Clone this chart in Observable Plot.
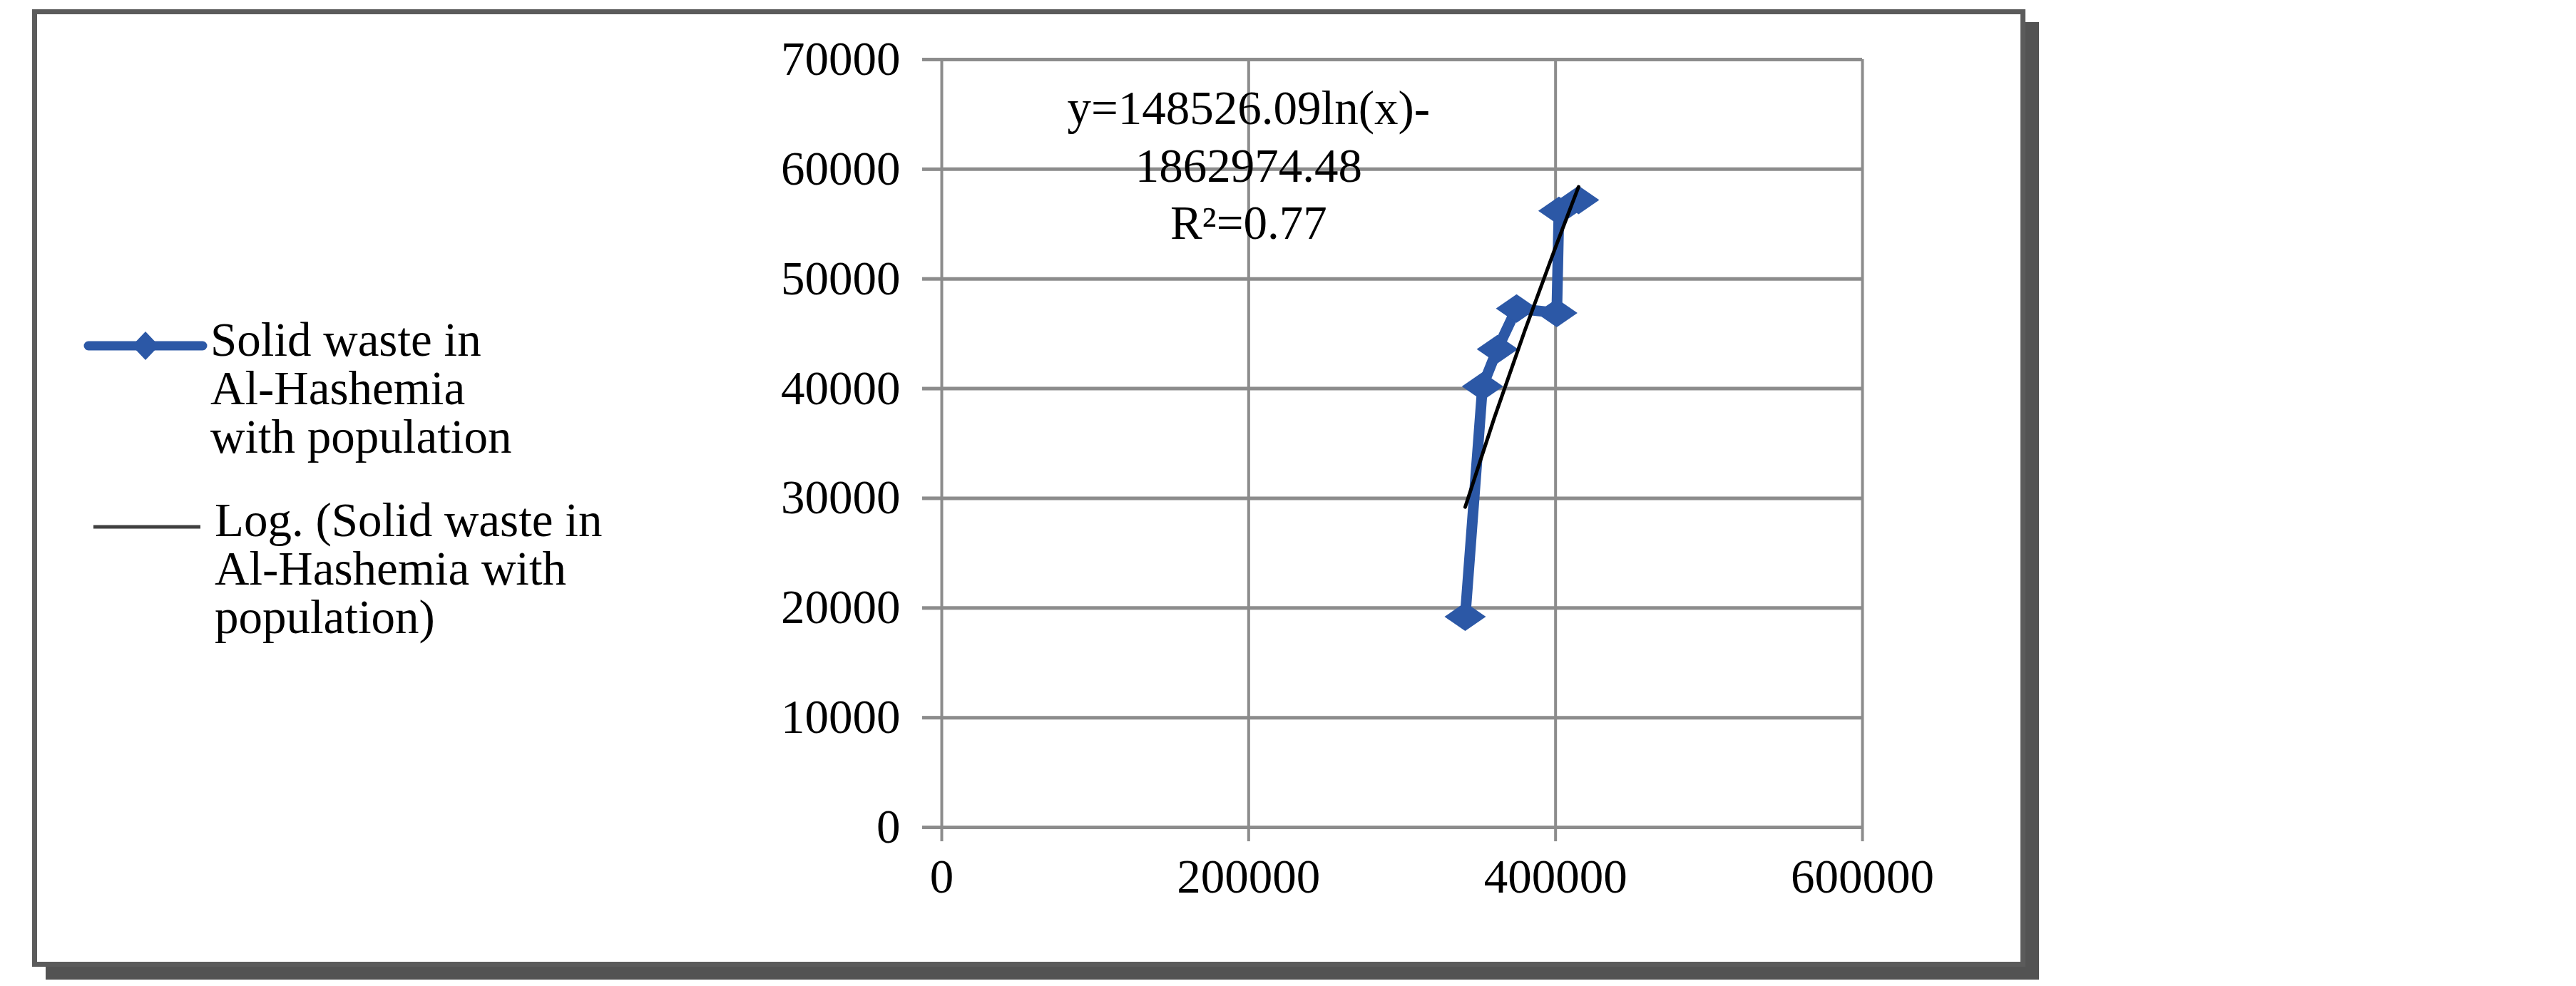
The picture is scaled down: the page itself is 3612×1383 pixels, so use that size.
<!DOCTYPE html>
<html>
<head>
<meta charset="utf-8">
<script src="https://cdn.jsdelivr.net/npm/d3@7"></script>
<script src="https://cdn.jsdelivr.net/npm/@observablehq/plot@0.6"></script>
<style>
  html, body { margin: 0; padding: 0; background: #ffffff; }
  #wrap { position: relative; width: 3612px; height: 1383px; overflow: hidden; font-family: "Liberation Serif", "Times New Roman", serif; }
  #box { position: absolute; left: 45px; top: 13px; width: 2795px; height: 1343px; box-sizing: border-box;
         border: 7px solid #5b5b5b; box-shadow: 19px 18px 0 #535353; background: #ffffff; }
  #chart { position: absolute; left: 0; top: 0; }
  #legend { position: absolute; left: 0; top: 0; }
</style>
</head>
<body>
<div id="wrap">
  <div id="box"></div>
  <div id="chart"></div>
  <svg id="legend" width="3612" height="1383"></svg>
</div>
<script>
// ---- data ----
const population = [341100, 352400, 362100, 374600, 400800, 402200, 415000];
const solidWaste = [19200, 40200, 43600, 47300, 46900, 56200, 57200];

// logarithmic trend line points
const trendPopulation = [341100, 360000, 380000, 400000, 415000];
const trendWaste = [29200, 37300, 45300, 52900, 58400];

const xTicks = [0, 200000, 400000, 600000];
const yTicks = [0, 10000, 20000, 30000, 40000, 50000, 60000, 70000];

const seriesName = "Solid waste in\nAl-Hashemia\nwith population";
const trendName = "Log. (Solid waste in\nAl-Hashemia with\npopulation)";
const trendLabel = "y=148526.09ln(x)-\n1862974.48\nR\u00B2=0.77";
const trendLabelX = [200000];
const trendLabelY = [67800];

// ---- tables ----
const series = population.map((p, i) => ({population: p, waste: solidWaste[i]}));
const trend = trendPopulation.map((p, i) => ({population: p, waste: trendWaste[i]}));
const annotation = trendLabelX.map((x, i) => ({x, y: trendLabelY[i], text: trendLabel}));

const BLUE = "#2c58a6";
const GRID = "#8c8c8c";
const FONT = "Liberation Serif";
const FS = 67;

const wideDiamond = {
  draw(context) {
    const w = 29, h = 20;
    context.moveTo(0, -h);
    context.lineTo(w, 0);
    context.lineTo(0, h);
    context.lineTo(-w, 0);
    context.closePath();
  }
};

const chart = Plot.plot({
  width: 3612,
  height: 1383,
  marginLeft: 1320,
  marginRight: 1001,
  marginTop: 83,
  marginBottom: 223,
  style: {background: "transparent", fontFamily: FONT, fontSize: FS + "px", color: "black"},
  x: {domain: [0, 600000]},
  y: {domain: [0, 70000]},
  marks: [
    Plot.gridY({ticks: yTicks, stroke: GRID, strokeOpacity: 1, strokeWidth: 5}),
    Plot.gridX({ticks: xTicks, stroke: GRID, strokeOpacity: 1, strokeWidth: 4}),
    Plot.axisY({ticks: yTicks, tickSize: 27, tickPadding: 31, stroke: GRID, strokeWidth: 5, fill: "black",
                tickFormat: d => String(d), label: null, fontSize: FS, fontFamily: FONT}),
    Plot.axisX({ticks: xTicks, tickSize: 20, tickPadding: 24, stroke: GRID, strokeWidth: 4, fill: "black",
                tickFormat: d => String(d), label: null, fontSize: FS, fontFamily: FONT}),
    Plot.line(series, {x: "population", y: "waste", stroke: BLUE, strokeWidth: 15,
                       strokeLinejoin: "round", strokeLinecap: "round"}),
    Plot.dot(series, {x: "population", y: "waste", symbol: wideDiamond, r: 10, fill: BLUE, stroke: null}),
    Plot.line(trend, {x: "population", y: "waste", stroke: "black", strokeWidth: 5}),
    Plot.text(annotation, {x: "x", y: "y", text: "text", lineAnchor: "top", lineHeight: 1.2,
                           textAnchor: "middle", fontSize: FS, fontFamily: FONT, fill: "black"})
  ]
});
document.getElementById("chart").appendChild(chart);

// ---- legend (left of the plot) ----
const legend = d3.select("#legend");
const items = [
  {name: seriesName, kind: "series", lineY: 485, x1: 124, x2: 284, textX: 295, baseline: 499},
  {name: trendName, kind: "trend", lineY: 739, x1: 131, x2: 281, textX: 301, baseline: 752}
];
items.forEach(it => {
  if (it.kind === "series") {
    legend.append("line").attr("x1", it.x1).attr("x2", it.x2).attr("y1", it.lineY).attr("y2", it.lineY)
      .attr("stroke", BLUE).attr("stroke-width", 13).attr("stroke-linecap", "round");
    const cx = (it.x1 + it.x2) / 2;
    legend.append("path")
      .attr("d", `M${cx},${it.lineY - 20}L${cx + 19},${it.lineY}L${cx},${it.lineY + 20}L${cx - 19},${it.lineY}Z`)
      .attr("fill", BLUE);
  } else {
    legend.append("line").attr("x1", it.x1).attr("x2", it.x2).attr("y1", it.lineY).attr("y2", it.lineY)
      .attr("stroke", "#404040").attr("stroke-width", 5);
  }
  const t = legend.append("text")
    .attr("x", it.textX).attr("y", it.baseline)
    .attr("font-family", FONT).attr("font-size", FS).attr("fill", "black");
  it.name.split("\n").forEach((line, i) => {
    t.append("tspan").attr("x", it.textX).attr("dy", i === 0 ? 0 : 68).text(line);
  });
});
</script>
</body>
</html>
